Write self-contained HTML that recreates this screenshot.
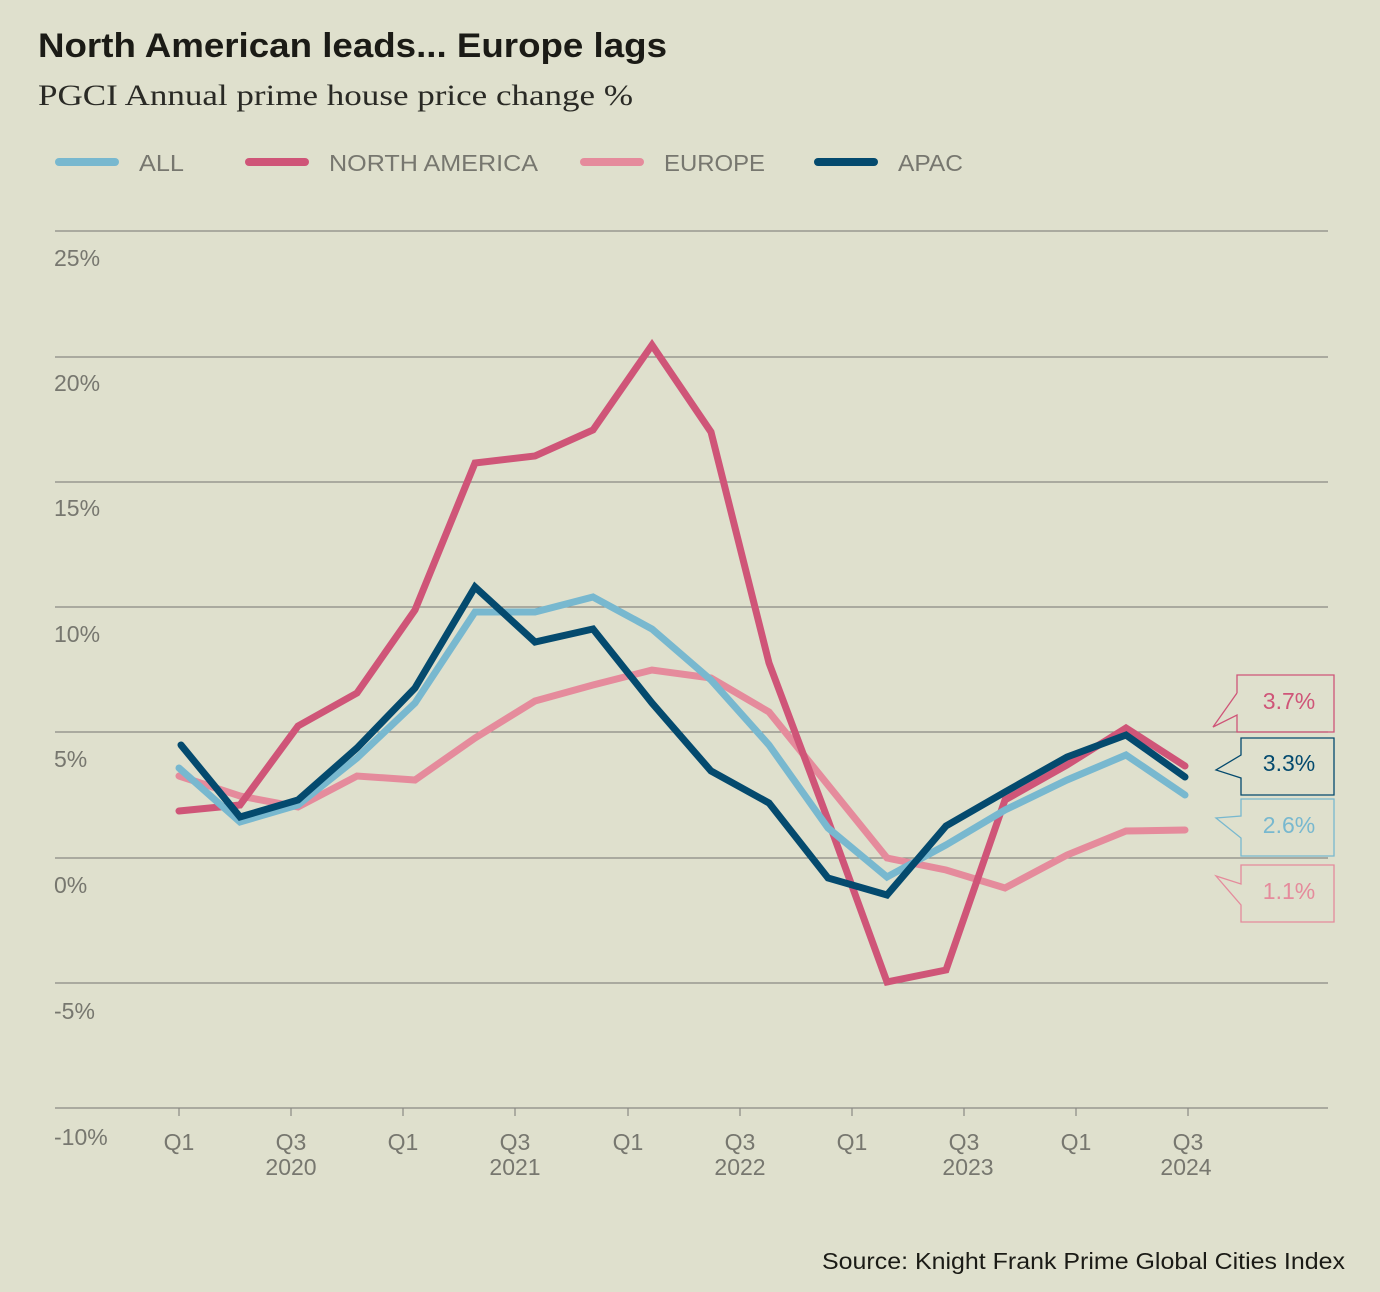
<!DOCTYPE html>
<html><head><meta charset="utf-8"><style>
body{margin:0;background:#dfe0cd;}
svg{display:block;font-family:"Liberation Sans",sans-serif;}
</style></head><body>
<svg width="1380" height="1292" viewBox="0 0 1380 1292">
<rect width="1380" height="1292" fill="#dfe0cd"/>
<text x="38" y="57" font-size="34" font-weight="bold" fill="#1b1b16" textLength="629" lengthAdjust="spacingAndGlyphs">North American leads... Europe lags</text>
<text x="38" y="105" font-size="30" fill="#2a2a25" font-family="Liberation Serif,serif" textLength="595" lengthAdjust="spacingAndGlyphs">PGCI Annual prime house price change %</text>
<g stroke-width="8" stroke-linecap="round">
<line x1="59" y1="162" x2="115" y2="162" stroke="#78b8cf"/>
<line x1="249" y1="162" x2="305" y2="162" stroke="#cf5578"/>
<line x1="584" y1="162" x2="640" y2="162" stroke="#e58b9c"/>
<line x1="818" y1="162" x2="874" y2="162" stroke="#044a6e"/>
</g>
<g font-size="23" fill="#77776f">
<text x="139" y="171" textLength="45" lengthAdjust="spacingAndGlyphs">ALL</text><text x="329" y="171" textLength="209" lengthAdjust="spacingAndGlyphs">NORTH AMERICA</text>
<text x="664" y="171" textLength="101" lengthAdjust="spacingAndGlyphs">EUROPE</text><text x="898" y="171" textLength="65" lengthAdjust="spacingAndGlyphs">APAC</text>
</g>
<g stroke="#8a8a84" stroke-width="1.2">
<line x1="55" y1="231" x2="1328" y2="231"/><line x1="55" y1="357" x2="1328" y2="357"/>
<line x1="55" y1="482" x2="1328" y2="482"/><line x1="55" y1="607" x2="1328" y2="607"/>
<line x1="55" y1="732" x2="1328" y2="732"/><line x1="55" y1="858" x2="1328" y2="858"/>
<line x1="55" y1="983" x2="1328" y2="983"/><line x1="55" y1="1108" x2="1328" y2="1108"/>
<line x1="179" y1="1108" x2="179" y2="1116"/><line x1="291" y1="1108" x2="291" y2="1116"/>
<line x1="403" y1="1108" x2="403" y2="1116"/><line x1="515" y1="1108" x2="515" y2="1116"/>
<line x1="628" y1="1108" x2="628" y2="1116"/><line x1="740" y1="1108" x2="740" y2="1116"/>
<line x1="852" y1="1108" x2="852" y2="1116"/><line x1="964" y1="1108" x2="964" y2="1116"/>
<line x1="1076" y1="1108" x2="1076" y2="1116"/><line x1="1188" y1="1108" x2="1188" y2="1116"/>
</g>
<g font-size="23" fill="#77776f">
<text x="54" y="266">25%</text><text x="54" y="391">20%</text><text x="54" y="516">15%</text>
<text x="54" y="642">10%</text><text x="54" y="767">5%</text><text x="54" y="893">0%</text>
<text x="54" y="1019">-5%</text><text x="54" y="1145">-10%</text>
</g>
<g font-size="23" fill="#77776f" text-anchor="middle">
<text x="179" y="1150">Q1</text><text x="291" y="1150">Q3</text><text x="291" y="1175">2020</text>
<text x="403" y="1150">Q1</text><text x="515" y="1150">Q3</text><text x="515" y="1175">2021</text>
<text x="628" y="1150">Q1</text><text x="740" y="1150">Q3</text><text x="740" y="1175">2022</text>
<text x="852" y="1150">Q1</text><text x="964" y="1150">Q3</text><text x="968" y="1175">2023</text>
<text x="1076" y="1150">Q1</text><text x="1188" y="1150">Q3</text><text x="1186" y="1175">2024</text>
</g>
<g fill="none" stroke-width="7" stroke-linejoin="miter" stroke-linecap="round">
<polyline stroke="#e58b9c" points="179,776 240,796 298,807 357,776 415,780 475,738 535,701 593,685 652,670 711,678 769,712 828,785 887,858 946,870 1005,888 1067,855 1126,831 1185,830"/>
<polyline stroke="#cf5578" points="179,811 240,805 298,726 357,693 415,610 475,463 535,456 593,430 652,345 711,432 769,663 828,820 887,982 946,970 1005,800 1067,765 1126,728 1185,766"/>
<polyline stroke="#78b8cf" points="179,768 240,822 298,805 357,758 415,703 475,612 535,612 593,597 652,629 711,680 769,745 828,828 887,877 946,845 1005,810 1067,780 1126,755 1185,795"/>
<polyline stroke="#044a6e" points="181,745 240,817 298,800 357,748 415,688 475,587 535,642 593,629 652,703 711,771 769,803 828,878 887,895 946,826 1005,792 1067,757 1126,735 1185,777"/>
</g>
<g fill="none" stroke-width="1.3">
<path d="M1237,693 V675 H1334 V732 H1237 V715 L1213,727 L1237,693" stroke="#cf5578"/>
<path d="M1241,755 V738 H1334 V795 H1241 V778 L1216,770 Z" stroke="#044a6e"/>
<path d="M1241,816 V799 H1334 V856 H1241 V838 L1216,818 Z" stroke="#78b8cf"/>
<path d="M1241,884 V865 H1334 V922 H1241 V905 L1216,876 Z" stroke="#e58b9c"/>
</g>
<g font-size="23" text-anchor="middle">
<text x="1289" y="709" fill="#cf5578">3.7%</text>
<text x="1289" y="771" fill="#044a6e">3.3%</text>
<text x="1289" y="833" fill="#78b8cf">2.6%</text>
<text x="1289" y="899" fill="#e58b9c">1.1%</text>
</g>
<text x="1345" y="1269" font-size="23" fill="#1b1b16" text-anchor="end" textLength="523" lengthAdjust="spacingAndGlyphs">Source: Knight Frank Prime Global Cities Index</text>
</svg>
</body></html>
